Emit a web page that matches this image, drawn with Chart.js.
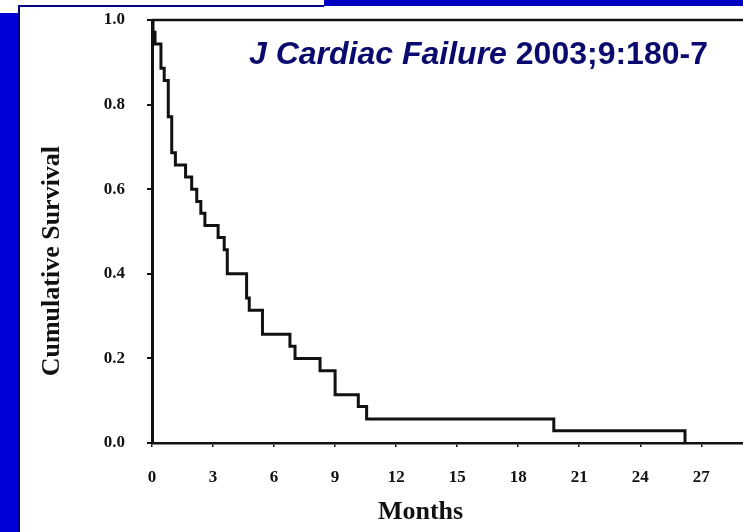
<!DOCTYPE html>
<html>
<head>
<meta charset="utf-8">
<title>Cumulative Survival</title>
<script src="https://cdn.jsdelivr.net/npm/chart.js@4.4.1/dist/chart.umd.min.js"></script>
<style>
    html, body { margin: 0; padding: 0; background: #ffffff; }
    body { width: 743px; height: 532px; position: relative; overflow: hidden; }
    .strip-left { position: absolute; left: 0; top: 13px; width: 18px; height: 519px; background: #0000d8; }
    .strip-top { position: absolute; left: 324px; top: 0; width: 419px; height: 6px; background: #0000c4; }
    .edge-top { position: absolute; left: 18px; top: 5px; width: 306px; height: 2px; background: #000080; }
    .edge-left { position: absolute; left: 18px; top: 5px; width: 2px; height: 527px; background: #000080; }
    #survivalChart { position: absolute; left: 0; top: 0; }
    .citation {
        position: absolute; left: 249px; top: 35px;
        font-family: "Liberation Sans", Arial, sans-serif; font-weight: bold;
        font-size: 32px; color: #0a0a6e; white-space: nowrap;
    }
</style>
</head>
<body>
<div class="strip-left"></div>
<div class="strip-top"></div>
<div class="edge-top"></div>
<div class="edge-left"></div>
<canvas id="survivalChart" width="743" height="532"></canvas>
<div class="citation"><i>J Cardiac Failure</i> 2003;9:180-7</div>

<script>
// Kaplan-Meier survival curve.
const months = [0, 0.05, 0.15, 0.44, 0.6, 0.8, 0.97, 1.15, 1.65, 1.95, 2.2, 2.4, 2.6,
    3.25, 3.55, 3.7, 4.65, 4.78, 5.43, 6.78, 7.03, 8.26, 9.0, 10.14, 10.55, 19.75, 26.2];
const survival = [1.0, 0.971, 0.943, 0.886, 0.857, 0.771, 0.686, 0.657, 0.629, 0.6, 0.571, 0.543, 0.514,
    0.486, 0.457, 0.4, 0.343, 0.314, 0.257, 0.229, 0.2, 0.171, 0.114, 0.086, 0.057, 0.029, 0];
const monthTicks = [0, 3, 6, 9, 12, 15, 18, 21, 24, 27];
const survivalTicks = [0, 0.2, 0.4, 0.6, 0.8, 1.0];
const xAxisTitle = 'Months';
const yAxisTitle = 'Cumulative Survival';

const chartCanvas = document.getElementById('survivalChart');
const inkColor = '#111111';
const tickFont = { family: '"Liberation Serif", "Times New Roman", serif', size: 17, weight: 'bold' };
const monthMax = 29.05;

// top frame line plus axis titles (titles sit off-centre in the original)
const frameAndTitles = {
    id: 'frameAndTitles',
    afterDraw(chart) {
        const ctx = chart.ctx;
        const area = chart.chartArea;
        const xScale = chart.scales.x;
        const yScale = chart.scales.y;
        ctx.save();
        ctx.strokeStyle = inkColor;
        ctx.lineWidth = 2.5;
        ctx.beginPath();
        ctx.moveTo(area.left, area.top);
        ctx.lineTo(chart.width, area.top);
        ctx.stroke();

        ctx.fillStyle = inkColor;
        ctx.font = 'bold 26px "Liberation Serif", "Times New Roman", serif';
        ctx.textAlign = 'center';
        ctx.textBaseline = 'middle';
        ctx.fillText(xAxisTitle, xScale.getPixelForValue(13.2), 512);
        ctx.translate(52, yScale.getPixelForValue(0.43));
        ctx.rotate(-Math.PI / 2);
        ctx.fillText(yAxisTitle, 0, 0);
        ctx.restore();
    }
};

new Chart(chartCanvas, {
    type: 'line',
    data: {
        datasets: [
            {
                data: months.map((m, i) => ({ x: m, y: survival[i] })),
                borderColor: inkColor,
                borderWidth: 3,
                pointRadius: 0,
                stepped: 'before',
                fill: false,
            }
        ]
    },
    options: {
        responsive: false,
        animation: false,
        layout: { padding: { top: 20, left: 0, right: 0, bottom: 0 } },
        plugins: {
            legend: { display: false },
            tooltip: { enabled: false },
        },
        scales: {
            x: {
                type: 'linear',
                position: 'bottom',
                min: 0,
                max: monthMax,
                border: { color: inkColor, width: 2.5 },
                grid: { drawOnChartArea: false, tickLength: 4, color: inkColor, lineWidth: 1.5 },
                ticks: { font: tickFont, color: inkColor, padding: 20, maxRotation: 0 },
                afterBuildTicks: (scale) => { scale.ticks = monthTicks.map(v => ({ value: v })); },
                afterFit: (scale) => { scale.height = 89; },
            },
            y: {
                min: 0,
                max: 1,
                border: { color: inkColor, width: 3 },
                grid: { drawOnChartArea: false, tickLength: 5, color: inkColor, lineWidth: 2 },
                ticks: {
                    font: tickFont,
                    color: inkColor,
                    padding: 22,
                    callback: (value) => Number(value).toFixed(1),
                },
                afterBuildTicks: (scale) => { scale.ticks = survivalTicks.map(v => ({ value: v })); },
                afterFit: (scale) => {
                    scale.width = 152;
                    // the tick padding would otherwise push the plot top down
                    scale.paddingTop = 0;
                    scale.paddingBottom = 0;
                },
            }
        }
    },
    plugins: [frameAndTitles]
});
</script>
</body>
</html>
